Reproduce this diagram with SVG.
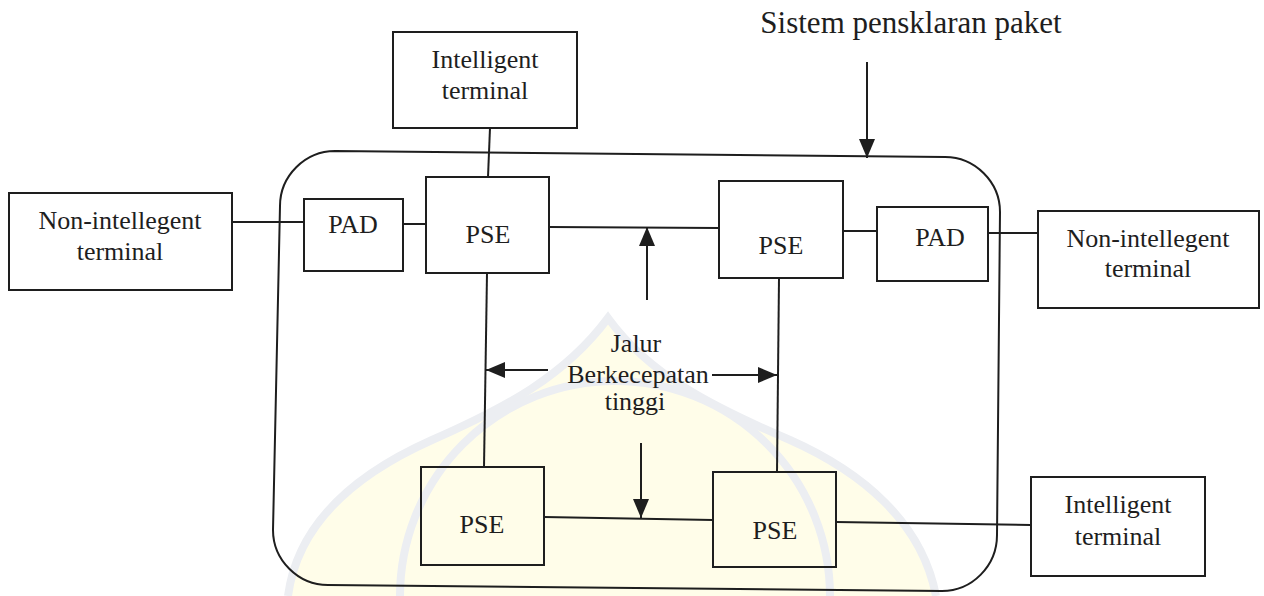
<svg xmlns="http://www.w3.org/2000/svg" width="1264" height="596" viewBox="0 0 1264 596">
  <style>
    .box { fill: none; stroke: #1e1e1e; stroke-width: 2; }
    .ln { fill: none; stroke: #1e1e1e; stroke-width: 2; }
    .arr { fill: none; stroke: #1e1e1e; stroke-width: 2; marker-end: url(#head); }
    .t { font-family: "Liberation Serif", "Times New Roman", serif; font-size: 26px; fill: #1e1e1e; text-anchor: middle; }
    .big { font-size: 31px; }
    .wm { fill: none; stroke: #eceef2; stroke-width: 8; }
  </style>
  <defs>
    <marker id="head" viewBox="0 0 19 16" refX="19" refY="8" markerWidth="19" markerHeight="16" markerUnits="userSpaceOnUse" orient="auto">
      <path d="M0,0 L19,8 L0,16 Z" fill="#1e1e1e"/>
    </marker>
  </defs>
  <rect width="1264" height="596" fill="#ffffff"/>

  <g id="watermark">
    <path d="M288,596 C298,520 360,472 432,440 C505,408 565,376 608,318 C650,376 715,408 790,440 C862,472 922,522 936,596 Z" fill="#fffde9"/>
    <path class="wm" d="M288,596 C298,520 360,472 432,440 C505,408 565,376 608,318 C650,376 715,408 790,440 C862,472 922,522 936,596"/>
    <path class="wm" d="M400,596 A215,215 0 0 1 830,596"/>
  </g>

  <g id="system-boundary">
    <path class="box" d="M335,151 L945,157 C975,157 1000,182 1000,212 L997,535 C997,566 972,591 942,591 L328,585 C298,585 273,560 273,530 L280,206 C280,176 305,151 335,151 Z"/>
  </g>

  <g id="connectors">
    <line class="ln" x1="232" y1="222" x2="304" y2="222"/>
    <line class="ln" x1="403" y1="224" x2="426" y2="224"/>
    <line class="ln" x1="490" y1="128" x2="488" y2="177"/>
    <line class="ln" x1="549" y1="227" x2="719" y2="228"/>
    <line class="ln" x1="843" y1="231" x2="877" y2="231"/>
    <line class="ln" x1="988" y1="233" x2="1038" y2="233"/>
    <line class="ln" x1="487" y1="273" x2="484" y2="467"/>
    <line class="ln" x1="779" y1="278" x2="777" y2="472"/>
    <line class="ln" x1="544" y1="517" x2="713" y2="520"/>
    <line class="ln" x1="836" y1="522" x2="1031" y2="525"/>
    <line class="arr" x1="867" y1="62" x2="867" y2="158"/>
    <line class="arr" x1="647" y1="300" x2="647" y2="227"/>
    <line class="arr" x1="548" y1="370" x2="486" y2="370"/>
    <line class="arr" x1="712" y1="375" x2="777" y2="375"/>
    <line class="arr" x1="641" y1="443" x2="641" y2="518"/>
  </g>

  <g id="label-sistem">
    <text class="t big" x="911" y="33">Sistem pensklaran paket</text>
  </g>

  <g id="label-jalur">
    <text class="t" x="636" y="352">Jalur</text>
    <text class="t" x="638" y="383">Berkecepatan</text>
    <text class="t" x="635" y="410">tinggi</text>
  </g>

  <g id="intelligent-top">
    <rect class="box" x="393" y="32" width="184" height="96"/>
    <text class="t" x="485" y="68">Intelligent</text>
    <text class="t" x="485" y="99">terminal</text>
  </g>

  <g id="nonintel-left">
    <rect class="box" x="9" y="193" width="223" height="97"/>
    <text class="t" x="120" y="229">Non-intellegent</text>
    <text class="t" x="120" y="260">terminal</text>
  </g>

  <g id="pad-left">
    <rect class="box" x="304" y="199" width="99" height="72"/>
    <text class="t" x="353" y="233">PAD</text>
  </g>

  <g id="pse-1">
    <rect class="box" x="426" y="177" width="123" height="96"/>
    <text class="t" x="488" y="243">PSE</text>
  </g>

  <g id="pse-2">
    <rect class="box" x="719" y="181" width="124" height="97"/>
    <text class="t" x="781" y="254">PSE</text>
  </g>

  <g id="pad-right">
    <rect class="box" x="877" y="207" width="111" height="74"/>
    <text class="t" x="940" y="246">PAD</text>
  </g>

  <g id="nonintel-right">
    <rect class="box" x="1038" y="211" width="221" height="97"/>
    <text class="t" x="1148" y="247">Non-intellegent</text>
    <text class="t" x="1148" y="277">terminal</text>
  </g>

  <g id="pse-3">
    <rect class="box" x="421" y="467" width="123" height="98"/>
    <text class="t" x="482" y="533">PSE</text>
  </g>

  <g id="pse-4">
    <rect class="box" x="713" y="472" width="123" height="95"/>
    <text class="t" x="775" y="539">PSE</text>
  </g>

  <g id="intelligent-bottom">
    <rect class="box" x="1031" y="477" width="174" height="99"/>
    <text class="t" x="1118" y="513">Intelligent</text>
    <text class="t" x="1118" y="545">terminal</text>
  </g>
</svg>
